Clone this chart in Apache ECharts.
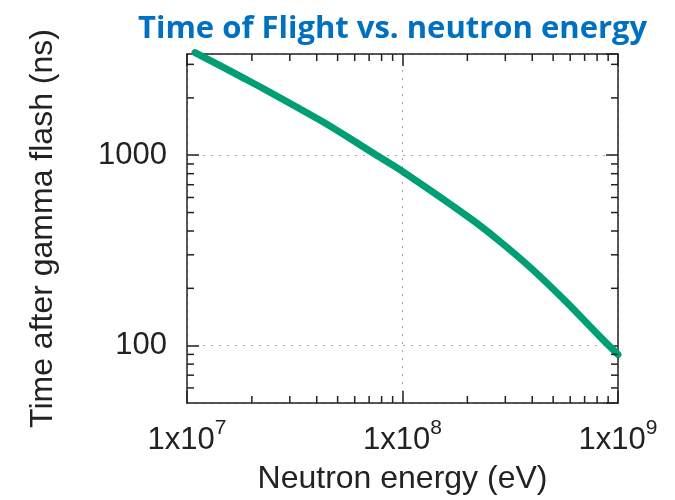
<!DOCTYPE html>
<html>
<head>
<meta charset="utf-8">
<script src="https://cdn.jsdelivr.net/npm/echarts@6/dist/echarts.min.js"></script>
<style>
  html, body { margin: 0; padding: 0; background: #fff; }
  #chart { width: 675px; height: 500px; }
</style>
</head>
<body>
<div id="chart"></div>
<script>
// Neutron energy (eV) and the matching time after the gamma flash (ns)
const energyEV = [1.09e7, 1.86e7, 2.18e7, 4.13e7, 5.10e7, 7.26e7, 9.68e7, 2.04e8, 2.81e8, 4.00e8, 5.73e8, 8.17e8, 1.0e9];
const tofNs    = [3460,   2518,   2288,   1531,   1326,   1030,   842,    470,    355,    252,    170.5,  112.7,  89.8];

// Axis ranges and tick values
const xRange = [1e7, 1e9];
const yRange = [50, 3400];
const xMajorTicks = [1e7, 1e8, 1e9];
const yMajorTicks = [100, 1000];
const xMinorTicks = [2e7, 3e7, 4e7, 5e7, 6e7, 7e7, 8e7, 9e7, 2e8, 3e8, 4e8, 5e8, 6e8, 7e8, 8e8, 9e8];
const yMinorTicks = [60, 70, 80, 90, 200, 300, 400, 500, 600, 700, 800, 900, 2000, 3000];

const INK = '#222';
const FONT = '"Liberation Sans", Arial, Helvetica, sans-serif';
const MAJOR_LEN = 12;
const MINOR_LEN = 7;

const chart = echarts.init(document.getElementById('chart'), null, { renderer: 'canvas' });

const tickStyle = { lineStyle: { color: INK, width: 1.5 } };
const axisLineStyle = { show: true, lineStyle: { color: INK, width: 1.5 } };
const gridDots = { show: true, lineStyle: { color: '#a8a8a8', width: 1, type: [2, 6] } };

function logAxis(range, extra) {
  return Object.assign({
    type: 'log',
    logBase: 10,
    min: range[0],
    max: range[1],
    axisLine: axisLineStyle,
    axisTick: Object.assign({ show: true, inside: true, length: MAJOR_LEN }, tickStyle),
    minorTick: { show: false },
    splitLine: { show: false },
    axisLabel: { show: false }
  }, extra);
}

// Short inward tick marks at 2..9 of each decade, on both opposite sides of the frame
function minorXTicks(params, api) {
  const cs = params.coordSys;
  const x = api.coord([api.value(0), yMajorTicks[0]])[0];
  const bottom = cs.y + cs.height, top = cs.y;
  const st = { stroke: INK, lineWidth: 1.5 };
  return {
    type: 'group',
    children: [
      { type: 'line', shape: { x1: x, y1: bottom, x2: x, y2: bottom - MINOR_LEN }, style: st },
      { type: 'line', shape: { x1: x, y1: top, x2: x, y2: top + MINOR_LEN }, style: st }
    ]
  };
}
function minorYTicks(params, api) {
  const cs = params.coordSys;
  const y = api.coord([xMajorTicks[1], api.value(1)])[1];
  const left = cs.x, right = cs.x + cs.width;
  const st = { stroke: INK, lineWidth: 1.5 };
  return {
    type: 'group',
    children: [
      { type: 'line', shape: { x1: left, y1: y, x2: left + MINOR_LEN, y2: y }, style: st },
      { type: 'line', shape: { x1: right, y1: y, x2: right - MINOR_LEN, y2: y }, style: st }
    ]
  };
}

const option = {
  backgroundColor: '#fff',
  animation: false,
  title: {
    text: 'Time of Flight vs. neutron energy',
    left: 133,
    top: 9,
    textStyle: { fontFamily: '"Open Sans", sans-serif', fontWeight: 'bold', fontSize: 31, color: '#0070c0' }
  },
  grid: { left: 187, top: 54, width: 431, height: 351, containLabel: false },
  xAxis: [
    logAxis(xRange, {
      position: 'bottom',
      name: 'Neutron energy (eV)',
      nameLocation: 'middle',
      nameGap: 60,
      nameTextStyle: { fontFamily: FONT, fontSize: 32, color: INK },
      splitLine: gridDots,
      axisLabel: {
        show: true,
        margin: 15,
        showMinLabel: true,
        showMaxLabel: true,
        formatter: v => '{b|1x10}{s|' + Math.round(Math.log10(v)) + '}',
        rich: {
          b: { fontFamily: FONT, fontSize: 31, color: INK, lineHeight: 44 },
          s: { fontFamily: FONT, fontSize: 21, color: INK, lineHeight: 18, verticalAlign: 'top' }
        }
      }
    }),
    logAxis(xRange, { position: 'top' })
  ],
  yAxis: [
    logAxis(yRange, {
      position: 'left',
      name: 'Time after gamma flash (ns)',
      nameLocation: 'middle',
      nameRotate: 90,
      nameGap: 128,
      nameTextStyle: { fontFamily: FONT, fontSize: 32, color: INK },
      splitLine: gridDots,
      axisLabel: {
        show: true,
        margin: 20,
        showMinLabel: false,
        showMaxLabel: false,
        fontFamily: FONT,
        fontSize: 31,
        color: INK,
        padding: [0, 0, 12, 0],
        formatter: v => {
          const r = Math.round(v);
          return yMajorTicks.indexOf(r) >= 0 ? String(r) : '';
        }
      }
    }),
    logAxis(yRange, { position: 'right' })
  ],
  series: [
    {
      type: 'custom',
      name: 'x minor ticks',
      xAxisIndex: 0,
      yAxisIndex: 0,
      renderItem: minorXTicks,
      data: xMinorTicks.map(v => [v, yMajorTicks[0]]),
      silent: true,
      z: 5
    },
    {
      type: 'custom',
      name: 'y minor ticks',
      xAxisIndex: 0,
      yAxisIndex: 0,
      renderItem: minorYTicks,
      data: yMinorTicks.map(v => [xMajorTicks[1], v]),
      silent: true,
      z: 5
    },
    {
      type: 'line',
      name: 'time of flight',
      xAxisIndex: 0,
      yAxisIndex: 0,
      data: energyEV.map((e, i) => [e, tofNs[i]]),
      smooth: 0.3,
      showSymbol: false,
      symbol: 'none',
      clip: false,
      lineStyle: { color: '#009e73', width: 7, cap: 'round' },
      z: 3
    }
  ]
};

chart.setOption(option);
</script>
</body>
</html>
